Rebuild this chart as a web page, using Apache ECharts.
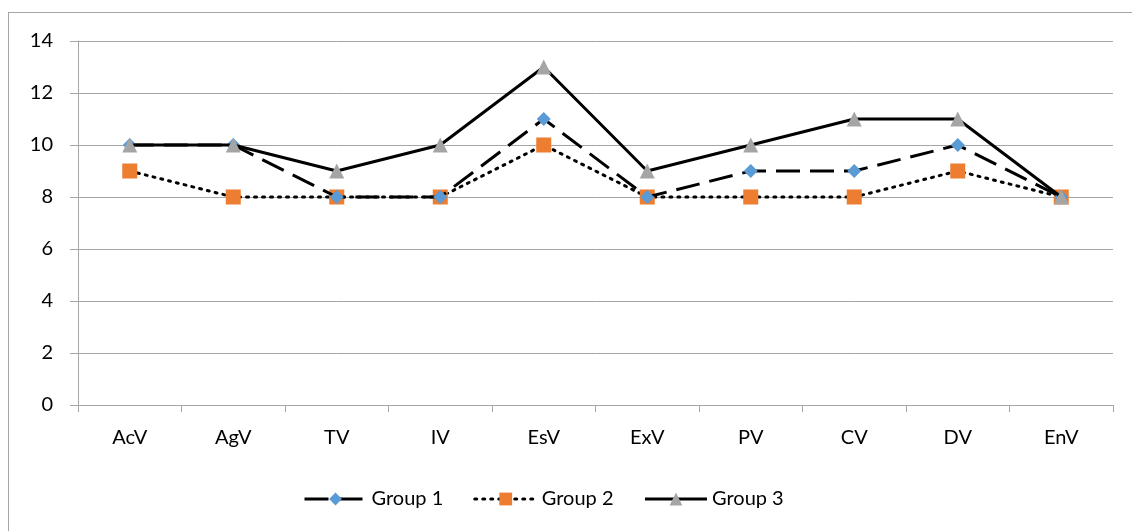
<!DOCTYPE html>
<html>
<head>
<meta charset="utf-8">
<script src="https://cdn.jsdelivr.net/npm/echarts@6/dist/echarts.min.js"></script>
<style>
  html, body { margin: 0; padding: 0; background: #fff; }
  #frame {
    position: absolute; left: 8px; top: 12px; width: 1200px; height: 600px;
    border-left: 1px solid #a6a6a6; border-top: 1px solid #a6a6a6;
  }
  #chart { position: absolute; left: 0; top: 0; width: 1132px; height: 531px; }
</style>
</head>
<body>
<div id="frame"></div>
<div id="chart"></div>
<script>
// categories and values
var categories = ['AcV', 'AgV', 'TV', 'IV', 'EsV', 'ExV', 'PV', 'CV', 'DV', 'EnV'];
var group1 = [10, 10, 8, 8, 11, 8, 9, 9, 10, 8];
var group2 = [9, 8, 8, 8, 10, 8, 8, 8, 9, 8];
var group3 = [10, 10, 9, 10, 13, 9, 10, 11, 11, 8];
var yTicks = { min: 0, max: 14, interval: 2 };

var font = 'Lato, "Open Sans", sans-serif';
var gridColor = '#a6a6a6';

var chart = echarts.init(document.getElementById('chart'));
chart.setOption({
  animation: false,
  grid: { left: 78, right: 19, top: 41, bottom: 126 },
  legend: {
    left: 298, top: 484,
    itemWidth: 62, itemHeight: 16, itemGap: 30,
    textStyle: { fontFamily: font, fontSize: 20, color: '#000' },
    lineStyle: { width: 3 },
    data: ['Group 1', 'Group 2', 'Group 3']
  },
  xAxis: {
    type: 'category',
    data: categories,
    boundaryGap: true,
    axisLine: { lineStyle: { color: gridColor, width: 1 } },
    axisTick: { show: true, length: 7, lineStyle: { color: gridColor } },
    axisLabel: { color: '#000', fontFamily: font, fontSize: 20, margin: 23 },
    splitLine: { show: false }
  },
  yAxis: {
    type: 'value',
    min: yTicks.min, max: yTicks.max, interval: yTicks.interval,
    axisLine: { show: true, lineStyle: { color: gridColor, width: 1 } },
    axisTick: { show: true, length: 8, lineStyle: { color: gridColor } },
    axisLabel: { color: '#000', fontFamily: font, fontSize: 20, margin: 25 },
    splitLine: { lineStyle: { color: gridColor, width: 1 } }
  },
  series: [
    {
      name: 'Group 2', type: 'line', data: group2, z: 2,
      symbol: 'rect', symbolSize: 15,
      itemStyle: { color: '#ed7d31' },
      lineStyle: { color: '#000', width: 3, type: [2, 6], cap: 'round' }
    },
    {
      name: 'Group 1', type: 'line', data: group1, z: 3,
      symbol: 'diamond', symbolSize: 14,
      itemStyle: { color: '#5b9bd5' },
      lineStyle: { color: '#000', width: 3, type: [24, 10] }
    },
    {
      name: 'Group 3', type: 'line', data: group3, z: 4,
      symbol: 'triangle', symbolSize: 15,
      itemStyle: { color: '#a5a5a5' },
      lineStyle: { color: '#000', width: 3 }
    }
  ]
});
</script>
</body>
</html>
